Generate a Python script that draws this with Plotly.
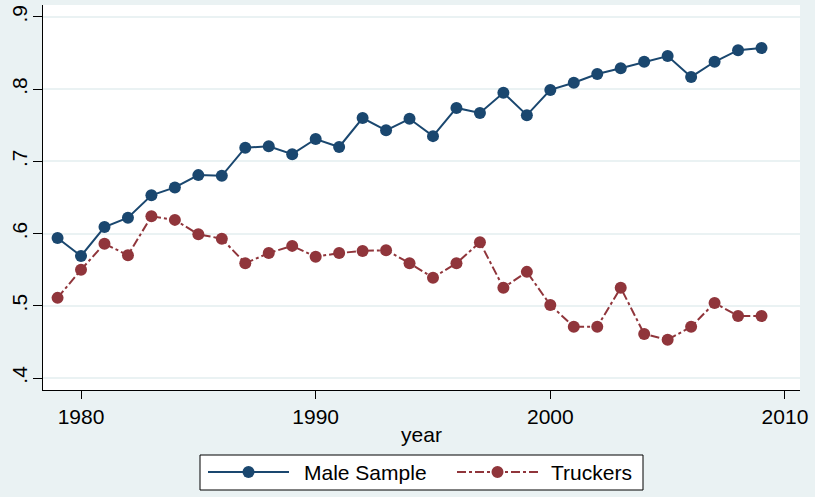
import plotly.graph_objects as go

years = list(range(1979, 2010))
male_sample = [0.594, 0.569, 0.609, 0.622, 0.653, 0.664, 0.681, 0.680, 0.719, 0.721,
               0.710, 0.731, 0.720, 0.760, 0.743, 0.759, 0.735, 0.774, 0.767, 0.795,
               0.764, 0.799, 0.809, 0.821, 0.829, 0.838, 0.846, 0.817, 0.838, 0.854, 0.857]
truckers = [0.511, 0.550, 0.586, 0.570, 0.624, 0.619, 0.599, 0.593, 0.559, 0.573,
            0.583, 0.568, 0.573, 0.576, 0.577, 0.559, 0.539, 0.559, 0.588, 0.525,
            0.547, 0.501, 0.471, 0.471, 0.525, 0.461, 0.453, 0.471, 0.504, 0.486, 0.486]
y_ticks = [0.4, 0.5, 0.6, 0.7, 0.8, 0.9]
y_labels = [".4", ".5", ".6", ".7", ".8", ".9"]
x_ticks = [1980, 1990, 2000, 2010]
series_names = ["Male Sample", "Truckers"]

navy = "#1a476f"
maroon = "#90353b"
bg = "#eaf2f3"
font = "Liberation Sans, Arial, sans-serif"

W, H = 815, 497
ML, MR, MT, MB = 43, 15, 5, 107
PW, PH = W - ML - MR, H - MT - MB


def px(x):
    return (x - ML) / PW


def py(y):
    return (H - MB - y) / PH


fig = go.Figure()
fig.add_trace(go.Scatter(x=years, y=male_sample, name=series_names[0], mode="lines+markers",
                         line=dict(color=navy, width=2),
                         marker=dict(color=navy, size=12), showlegend=False))
fig.add_trace(go.Scatter(x=years, y=truckers, name=series_names[1], mode="lines+markers",
                         line=dict(color=maroon, width=2, dash="dashdot"),
                         marker=dict(color=maroon, size=12), showlegend=False))

# manual legend (Stata style)
shapes = [dict(type="rect", xref="paper", yref="paper",
               x0=px(200), x1=px(643), y0=py(455), y1=py(490),
               line=dict(color="black", width=1), fillcolor="white", layer="above")]
annotations = []
legend_items = [
    (series_names[0], navy, "solid", 208, 289, 302),
    (series_names[1], maroon, "dashdot", 457, 538, 549),
]
ly = 472
for name, col, dash, x0, x1, tx in legend_items:
    shapes.append(dict(type="line", xref="paper", yref="paper",
                       x0=px(x0), x1=px(x1), y0=py(ly), y1=py(ly),
                       line=dict(color=col, width=2, dash=dash), layer="above"))
    cx = (x0 + x1) / 2
    shapes.append(dict(type="circle", xref="paper", yref="paper",
                       xsizemode="pixel", ysizemode="pixel",
                       xanchor=px(cx), yanchor=py(ly),
                       x0=-6, x1=6, y0=-6, y1=6,
                       line=dict(color=col, width=0), fillcolor=col, layer="above"))
    annotations.append(dict(text=name, xref="paper", yref="paper",
                            x=px(tx), y=py(ly), xanchor="left", yanchor="middle",
                            showarrow=False, font=dict(size=21, color="black", family=font)))

fig.update_layout(
    width=W, height=H,
    paper_bgcolor=bg, plot_bgcolor="white",
    margin=dict(l=ML, r=MR, t=MT, b=MB, autoexpand=False),
    font=dict(family=font, size=21, color="black"),
    xaxis=dict(range=[1978.38, 2010.64], tickvals=x_ticks, showgrid=False,
               showline=True, linecolor="black", linewidth=1,
               ticks="outside", ticklen=8, tickcolor="black",
               tickfont=dict(size=21), automargin=False,
               title=dict(text="year", standoff=0, font=dict(size=21)), zeroline=False),
    yaxis=dict(range=[0.3834, 0.9166], tickvals=y_ticks, ticktext=y_labels,
               tickangle=-90, showgrid=True, gridcolor=bg, gridwidth=2,
               showline=True, linecolor="black", linewidth=1,
               ticks="outside", ticklen=9, tickcolor="black", zeroline=False,
               tickfont=dict(size=21), automargin=False, ticklabelstandoff=-2),
    shapes=shapes,
    annotations=annotations,
    showlegend=False,
)

fig.write_html("out.html", config={"displayModeBar": False},
               post_script="document.body.style.margin='0';document.body.style.overflow='hidden';")
